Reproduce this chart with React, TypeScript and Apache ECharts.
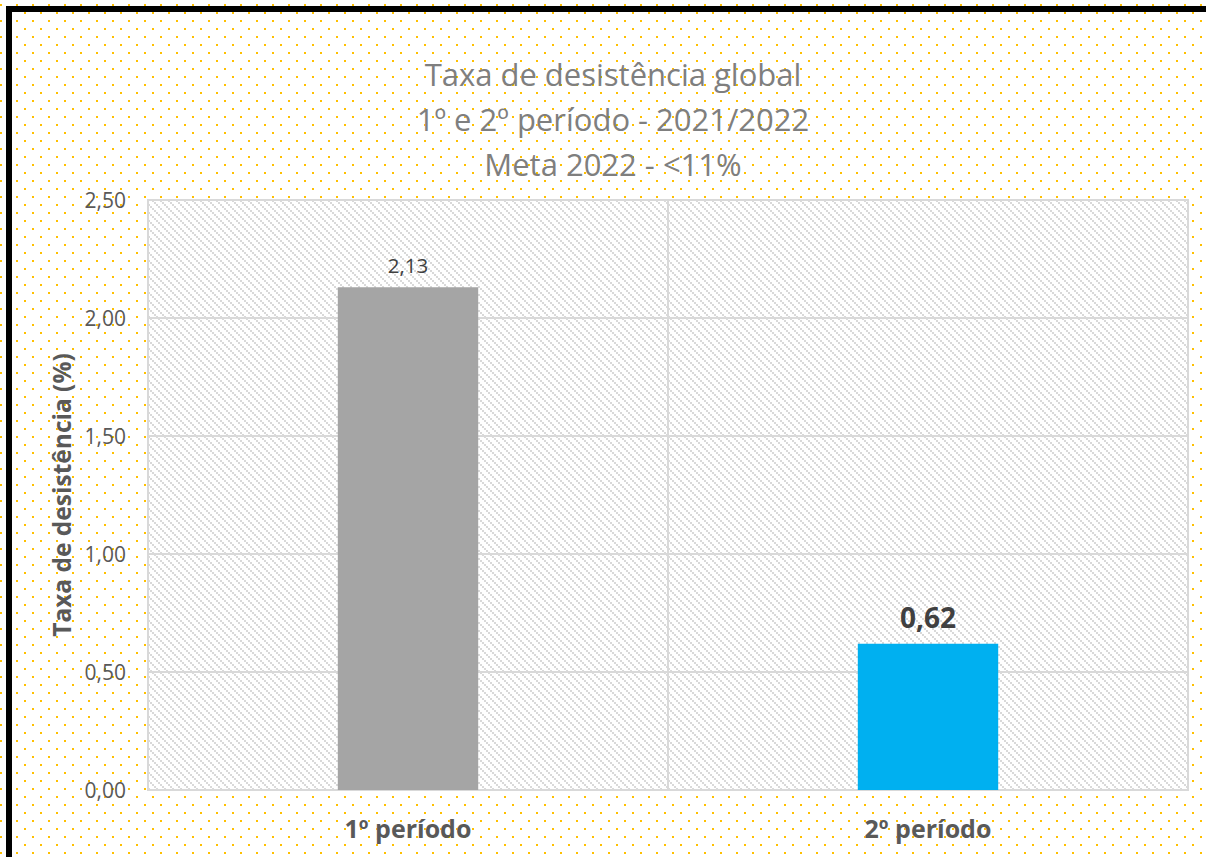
import React, { useEffect, useRef } from "react";
import * as echarts from "echarts";

const categories = ["1º período", "2º período"];
const values = [2.13, 0.62];
const barColors = ["#A5A5A5", "#00B0F0"];
const yTicks = { min: 0, max: 2.5, interval: 0.5 };
const titleLines = ["Taxa de desistência global", "1º e 2º período - 2021/2022", "Meta 2022 - <11%"];
const yAxisName = "Taxa de desistência (%)";

const FONT = "'Open Sans', 'Noto Sans', sans-serif";

const dotsSvg =
  "data:image/svg+xml;charset=utf-8," +
  encodeURIComponent(
    '<svg xmlns="http://www.w3.org/2000/svg" width="16" height="16" shape-rendering="crispEdges">' +
      '<rect x="0" y="4" width="2" height="2" fill="#FFC000"/>' +
      '<rect x="8" y="12" width="2" height="2" fill="#FFC000"/>' +
      "</svg>"
  );

const hatchSvg =
  "data:image/svg+xml;charset=utf-8," +
  encodeURIComponent(
    '<svg xmlns="http://www.w3.org/2000/svg" width="8" height="8" shape-rendering="crispEdges">' +
      '<rect width="8" height="8" fill="#FFFFFF"/>' +
      '<rect x="0" y="0" width="2" height="2" fill="#D9D9D9"/>' +
      '<rect x="2" y="2" width="2" height="2" fill="#D9D9D9"/>' +
      '<rect x="4" y="4" width="2" height="2" fill="#D9D9D9"/>' +
      '<rect x="6" y="6" width="2" height="2" fill="#D9D9D9"/>' +
      "</svg>"
  );

const fmt = (v: number) => v.toFixed(2).replace(".", ",");

export default function App() {
  const ref = useRef<HTMLDivElement>(null);
  useEffect(() => {
    if (!ref.current) return;
    const chart = echarts.init(ref.current, null, { renderer: "svg" });
    const gridLeft = 148;
    const gridTop = 200;
    const gridRight = 18;
    const gridBottom = 67;
    const W = 1206;
    const H = 857;
    chart.setOption({
      animation: false,
      backgroundColor: "#FFFFFF",
      title: {
        text: titleLines.join("\n"),
        left: 608,
        top: 46,
        textAlign: "center",
        textStyle: {
          fontFamily: FONT,
          fontSize: 31,
          fontWeight: "normal",
          color: "#7F7F7F",
          lineHeight: 45,
        },
      },
      graphic: [
        {
          type: "rect",
          z: -20,
          silent: true,
          shape: { x: 0, y: 0, width: W, height: H },
          style: {
            fill: { image: dotsSvg, repeat: "repeat", imageWidth: 16, imageHeight: 16, x: 15, y: 0 } as any,
          },
        },
        {
          type: "rect",
          z: -10,
          silent: true,
          shape: { x: gridLeft, y: gridTop, width: W - gridLeft - gridRight, height: H - gridTop - gridBottom },
          style: {
            fill: { image: hatchSvg, repeat: "repeat", imageWidth: 8, imageHeight: 8 } as any,
          },
        },
        {
          type: "rect",
          z: 100,
          silent: true,
          shape: { x: 9, y: 9, width: 1400, height: 1000 },
          style: { fill: "none", stroke: "#000000", lineWidth: 6 },
        },
      ],
      grid: {
        left: gridLeft,
        top: gridTop,
        right: gridRight,
        bottom: gridBottom,
        show: true,
        backgroundColor: "transparent",
        borderColor: "#D9D9D9",
        borderWidth: 2,
      },
      xAxis: {
        type: "category",
        data: categories,
        boundaryGap: true,
        axisLine: { show: true, lineStyle: { color: "#D9D9D9", width: 2 } },
        axisTick: { show: false },
        splitLine: { show: true, lineStyle: { color: "#D9D9D9", width: 2 } },
        axisLabel: {
          margin: 25,
          fontFamily: FONT,
          fontSize: 25,
          fontWeight: "bold",
          color: "#595959",
        },
      },
      yAxis: {
        type: "value",
        min: yTicks.min,
        max: yTicks.max,
        interval: yTicks.interval,
        name: yAxisName,
        nameLocation: "middle",
        nameRotate: 90,
        nameGap: 74,
        nameTextStyle: {
          fontFamily: FONT,
          fontSize: 24.5,
          fontWeight: "bold",
          color: "#595959",
        },
        axisLine: { show: true, lineStyle: { color: "#D9D9D9", width: 2 } },
        axisTick: { show: false },
        splitLine: { show: true, lineStyle: { color: "#D9D9D9", width: 2 } },
        axisLabel: {
          margin: 22,
          fontFamily: FONT,
          fontSize: 21,
          color: "#595959",
          formatter: (v: number) => fmt(v),
        },
      },
      series: [
        {
          type: "bar",
          barWidth: "27%",
          data: values.map((v, i) => ({
            value: v,
            itemStyle: { color: barColors[i] },
            label:
              i === 0
                ? { fontSize: 20.5, fontWeight: "normal", distance: 12 }
                : { fontSize: 28, fontWeight: "bold", distance: 13 },
          })),
          label: {
            show: true,
            position: "top",
            fontFamily: FONT,
            color: "#404040",
            formatter: (p: any) => fmt(p.value),
          },
        },
      ],
    });
    return () => chart.dispose();
  }, []);
  return (
    <div
      ref={ref}
      style={{ position: "fixed", left: 0, top: 0, width: 1206, height: 857 }}
    />
  );
}
